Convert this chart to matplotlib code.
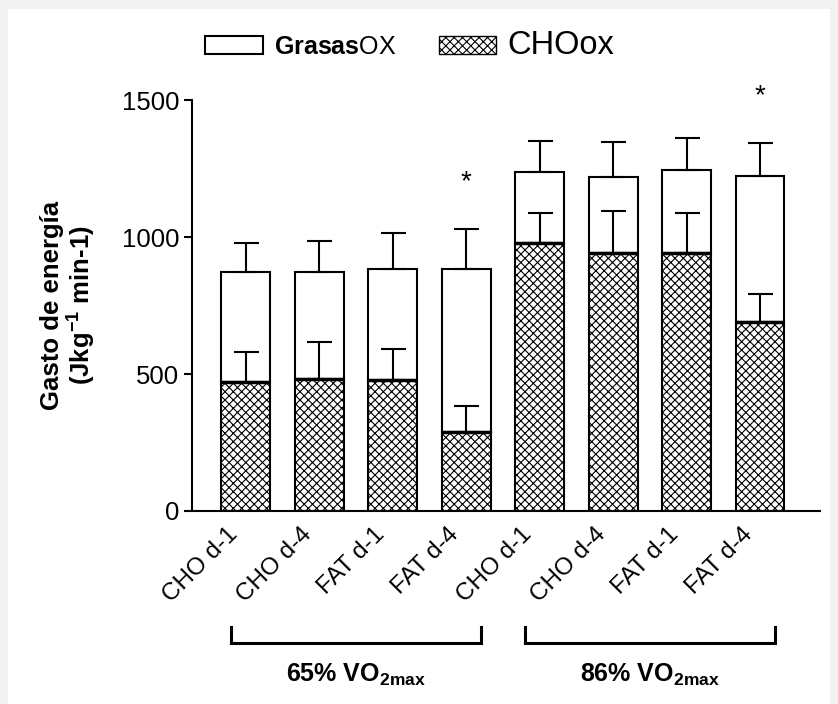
import matplotlib.pyplot as plt
from matplotlib.patches import Patch, Rectangle
from matplotlib.transforms import blended_transform_factory, ScaledTranslation

plt.rcParams['font.family'] = ['Liberation Sans', 'DejaVu Sans']
plt.rcParams['mathtext.fontset'] = 'custom'
plt.rcParams['mathtext.rm'] = 'Liberation Sans'
plt.rcParams['mathtext.bf'] = 'Liberation Sans:bold'
plt.rcParams['hatch.linewidth'] = 0.8

# datos
conditions = ['CHO d-1', 'CHO d-4', 'FAT d-1', 'FAT d-4',
              'CHO d-1', 'CHO d-4', 'FAT d-1', 'FAT d-4']
total = [873, 873, 885, 885, 1238, 1220, 1244, 1223]
total_err = [106, 113, 128, 145, 112, 125, 118, 120]
cho = [470, 483, 478, 290, 977, 943, 943, 691]
cho_err = [109, 135, 113, 93, 109, 152, 146, 100]
significant = [False, False, False, True, False, False, False, True]
groups = ['65% VO$_{\\mathbf{2max}}$', '86% VO$_{\\mathbf{2max}}$']
group_members = [[0, 1, 2, 3], [4, 5, 6, 7]]

fat = [t - c for t, c in zip(total, cho)]
x = list(range(len(conditions)))

fig = plt.figure(figsize=(8.38, 7.04), dpi=100)
fig.patch.set_facecolor('#f2f2f2')
fig.patches.append(Rectangle((8 / 838, 0.0), 822 / 838, 1 - 9 / 704,
                             transform=fig.transFigure, facecolor='white',
                             edgecolor='none', zorder=-5))
ax = fig.add_axes([192 / 838, 1 - 511 / 704, 628 / 838, 411 / 704])
ax.set_facecolor('none')

w = 0.667
b_cho = ax.bar(x, cho, width=w, color='white', edgecolor='black',
               hatch='xxxx', linewidth=1.5, zorder=2)
b_fat = ax.bar(x, fat, width=w, bottom=cho, color='white', edgecolor='black',
               linewidth=1.5, zorder=2)
# linea gruesa en el limite CHO / grasas
ax.hlines(cho, [i - w / 2 for i in x], [i + w / 2 for i in x], color='black',
          lw=2.5, zorder=2.5)

ax.errorbar(x, total, yerr=[[0] * len(x), total_err], fmt='none',
            ecolor='black', elinewidth=1.5, capsize=9, capthick=1.5, zorder=3)
ax.errorbar(x, cho, yerr=[[0] * len(x), cho_err], fmt='none',
            ecolor='black', elinewidth=1.5, capsize=9, capthick=1.5, zorder=3)

for i in x:
    if significant[i]:
        ax.text(i, total[i] + total_err[i] + 170, '*', ha='center', va='center',
                fontsize=20, clip_on=False)

ax.set_xlim(-0.735, 7.817)
ax.set_ylim(0, 1500)
ax.set_yticks([0, 500, 1000, 1500])
ax.tick_params(axis='y', labelsize=18.5, length=6, width=1.5, pad=3)
ax.tick_params(axis='x', length=0, pad=9)
ax.set_xticks(x)
ax.set_xticklabels(conditions, rotation=45, ha='right', rotation_mode='anchor',
                   fontsize=17.5)
shift = ScaledTranslation(-0.19, 0, fig.dpi_scale_trans)
for lab in ax.get_xticklabels():
    lab.set_transform(lab.get_transform() + shift)
for s in ['top', 'right']:
    ax.spines[s].set_visible(False)
for s in ['left', 'bottom']:
    ax.spines[s].set_linewidth(1.5)

ax.set_ylabel('Gasto de energía\n(Jkg$^{\\mathbf{-1}}$ min-1)', fontsize=18.5,
              fontweight='bold', labelpad=18, linespacing=1.0)

# corchetes de grupo
tr = blended_transform_factory(ax.transData, ax.transAxes)
for label, members in zip(groups, group_members):
    x0 = members[0] - 0.2
    x1 = members[-1] + 0.2
    ax.plot([x0, x0, x1, x1], [-0.282, -0.321, -0.321, -0.282], color='black',
            lw=2.2, transform=tr, clip_on=False, solid_joinstyle='miter')
    ax.text((x0 + x1) / 2, -0.40, label, transform=tr, ha='center', va='center',
            fontsize=18, fontweight='bold')

handles = [Patch(facecolor='white', edgecolor='black', linewidth=1.5),
           Patch(facecolor='white', edgecolor='black', hatch='xxxx', linewidth=1.0)]
leg = fig.legend(handles, ['$\\mathbf{Grasas}$OX', 'CHOox'], loc='center left',
                 bbox_to_anchor=(205 / 838, 1 - 45 / 704), ncol=2, frameon=False,
                 fontsize=18, handlelength=2.3, handleheight=0.72,
                 handletextpad=0.45, columnspacing=1.7, borderpad=0,
                 borderaxespad=0)
leg.get_texts()[1].set_fontsize(23.5)

fig.savefig('out.png', dpi=100, facecolor=fig.get_facecolor())
